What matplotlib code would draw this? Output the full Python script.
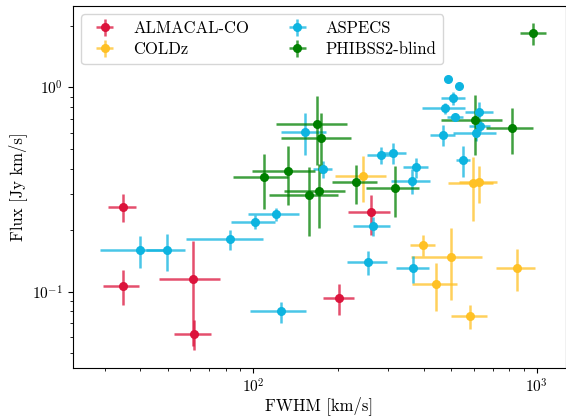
import numpy as np
import matplotlib
matplotlib.use('Agg')
import matplotlib.pyplot as plt

plt.rcParams['font.family'] = 'serif'
plt.rcParams['font.serif'] = ['cmr10']
plt.rcParams['mathtext.fontset'] = 'cm'
plt.rcParams['axes.formatter.use_mathtext'] = True
plt.rcParams['axes.unicode_minus'] = False

# ALMACAL-CO
alma_fwhm = [34.7, 34.7, 61.5, 61.8, 201.3, 260.3]
alma_fwhm_err = [3.9, 5.0, 15.0, 9.1, 25.5, 44.0]
alma_flux = [0.259, 0.107, 0.115, 0.062, 0.093, 0.244]
alma_flux_err = [0.041, 0.021, 0.061, 0.0104, 0.016, 0.054]

# COLDz
coldz_fwhm = [244.0, 595.3, 628.0, 398.7, 499.0, 441.9, 850.6, 582.4]
coldz_fwhm_err = [50, 108, 98, 40, 140, 80, 134, 84]
coldz_flux = [0.368, 0.339, 0.342, 0.169, 0.148, 0.109, 0.131, 0.076]
coldz_flux_err = [0.095, 0.118, 0.072, 0.020, 0.0565, 0.0285, 0.030, 0.0103]

# ASPECS
aspecs_fwhm = [39.8, 49.8, 83.0, 101.9, 120.8, 125.8, 152.9, 176.5, 282.2, 312.6,
               375.8, 362.9, 264.6, 254.7, 367.7, 550.3, 488.3, 534.2, 508.5, 475.5,
               515.6, 628.0, 631.6, 611.1, 469.0]
aspecs_fwhm_err = [11, 7.7, 25, 18, 25, 28, 27.5, 14, 31, 33.5,
                   39, 56, 39, 41, 49, 30, 8, 8, 48, 83,
                   32, 71, 55, 106, 47]
aspecs_flux = [0.159, 0.159, 0.180, 0.220, 0.239, 0.080, 0.604, 0.397, 0.466, 0.479,
               0.406, 0.349, 0.210, 0.139, 0.130, 0.439, 1.098, 1.015, 0.884, 0.789,
               0.713, 0.760, 0.647, 0.600, 0.584]
aspecs_flux_err = [0.029, 0.033, 0.020, 0.0165, 0.017, 0.0095, 0.14, 0.037, 0.044, 0.057,
                   0.045, 0.048, 0.023, 0.019, 0.0195, 0.075, 0.03, 0.03, 0.066, 0.05,
                   0.03, 0.086, 0.045, 0.056, 0.066]

# PHIBSS2-blind
phibss_fwhm = [167.8, 173.6, 132.4, 109.3, 170.2, 157.0, 231.1, 316.2, 606.1, 816.6, 972.8]
phibss_fwhm_err = [47, 48, 33, 24, 41.5, 43, 42, 67, 146, 154, 102]
phibss_flux = [0.661, 0.562, 0.391, 0.363, 0.312, 0.297, 0.342, 0.321, 0.692, 0.630, 1.837]
phibss_flux_err = [0.246, 0.183, 0.125, 0.11, 0.107, 0.11, 0.075, 0.09, 0.225, 0.159, 0.23]

surveys = [
    ('ALMACAL-CO', alma_fwhm, alma_fwhm_err, alma_flux, alma_flux_err, '#DC143C'),
    ('COLDz', coldz_fwhm, coldz_fwhm_err, coldz_flux, coldz_flux_err, '#FFC125'),
    ('ASPECS', aspecs_fwhm, aspecs_fwhm_err, aspecs_flux, aspecs_flux_err, '#0DB4E0'),
    ('PHIBSS2-blind', phibss_fwhm, phibss_fwhm_err, phibss_flux, phibss_flux_err, '#008000'),
]

fig = plt.figure(figsize=(5.66, 4.18), dpi=100)
ax = fig.add_axes([0.129, 0.12, 0.871, 0.866])

for name, x, xe, y, ye, c in surveys:
    ax.errorbar(x, y, xerr=xe, yerr=ye, fmt='o', color=c, ms=5.5,
                elinewidth=1.8, ecolor=matplotlib.colors.to_rgba(c, 0.75),
                capsize=0, label=name)

ax.set_xscale('log')
ax.set_yscale('log')
ax.set_xlim(23.2, 1268)
ax.set_ylim(0.0424, 2.5)
ax.set_xlabel('FWHM [km/s]', fontsize=12, labelpad=0)
ax.set_ylabel('Flux [Jy km/s]', fontsize=12)
ax.tick_params(labelsize=11)

ax.legend(loc='upper left', ncol=2, fontsize=12, columnspacing=1.9,
          handletextpad=0.7, borderpad=0.4, labelspacing=0.35)

fig.savefig('out.png', dpi=100)
